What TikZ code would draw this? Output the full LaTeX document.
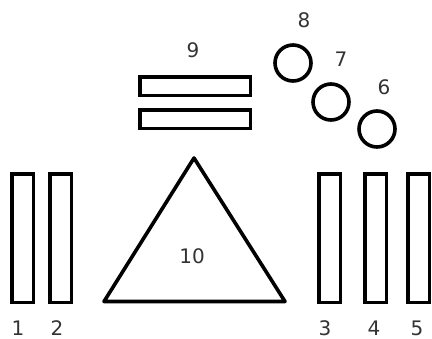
\documentclass[tikz,border=0pt]{standalone}
\usepackage{fontspec}
\setmainfont{DejaVu Sans}
\usetikzlibrary{positioning}

\begin{document}
\begin{tikzpicture}[
  x=0.5pt, y=-0.5pt,
  post/.style={draw, line width=1.8pt, inner sep=0pt, minimum width=10.8pt, minimum height=64.3pt},
  bar/.style={draw, line width=1.8pt, inner sep=0pt, minimum width=55.3pt, minimum height=9.3pt},
  ring/.style={draw, circle, line width=1.8pt, inner sep=0pt, minimum size=18pt},
  num/.style={font=\fontsize{10}{12}\selectfont, text=black!80, inner sep=0pt}
]
  \useasboundingbox (0,0) rectangle (432,338);

  % upright posts
  \node[post] (p1) at (22.5,238) {};
  \node[post] (p2) at (60.5,238) {};
  \node[post] (p3) at (329.5,238) {};
  \node[post] (p4) at (375.5,238) {};
  \node[post] (p5) at (418.5,238) {};

  \node[num] (l1) at (18,328) {1};
  \node[num] (l2) at (57,328) {2};
  \node[num] (l3) at (325,328) {3};
  \node[num] (l4) at (374,328) {4};
  \node[num] (l5) at (417,328) {5};

  % bars
  \node[bar] (b1) at (195,86) {};
  \node[bar] (b2) at (195,119) {};
  \node[num] (l9) at (193,50) {9};

  % rings
  \node[ring] (r8) at (293,63) {};
  \node[ring] (r7) at (331,102) {};
  \node[ring] (r6) at (377,129) {};
  \node[num] (l8) at (304,20) {8};
  \node[num] (l7) at (341,59) {7};
  \node[num] (l6) at (384,87) {6};

  % triangle
  \coordinate (top) at (194,158);
  \coordinate (bl) at (104,301.5);
  \coordinate (br) at (285,301.5);
  \draw[line width=1.8pt, line join=round] (top) -- (bl) -- (br) -- cycle;
  \node[num] (l10) at (192,256) {10};
\end{tikzpicture}
\end{document}
